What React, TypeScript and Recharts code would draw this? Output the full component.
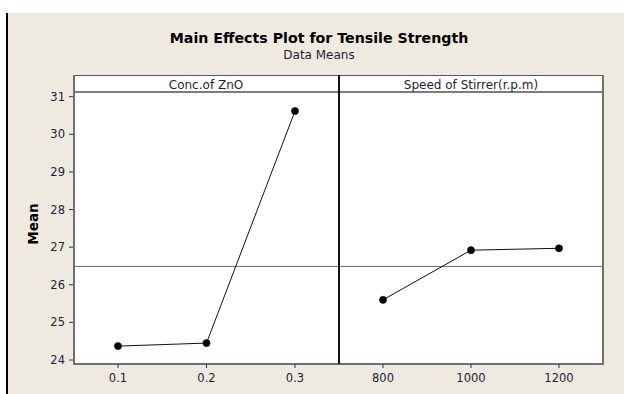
import { LineChart, Line, XAxis, YAxis, ReferenceLine } from 'recharts';

const concLevels = ['0.1', '0.2', '0.3'];
const concMeans = [24.37, 24.45, 30.62];

const speedLevels = ['800', '1000', '1200'];
const speedMeans = [25.6, 26.92, 26.97];

const meanTicks = [24, 25, 26, 27, 28, 29, 30, 31];
const meanDomain: [number, number] = [23.894, 31.125];

const concData = concLevels.map((level, i) => ({ level, mean: concMeans[i] }));
const speedData = speedLevels.map((level, i) => ({ level, mean: speedMeans[i] }));

// overall mean of all observations, drawn across both panels
const allMeans = [...concMeans, ...speedMeans];
const grandMean = allMeans.reduce((s, v) => s + v, 0) / allMeans.length;

const FONT = '"DejaVu Sans", Verdana, sans-serif';
const TEXT = '#1e1e36';
const FRAME = '#707070';
const BG = '#eeeae0';

const tickStyle = { fontFamily: FONT, fontSize: 11.5, fill: TEXT };

function Panel({ data, withAxis, width }: { data: { level: string; mean: number }[]; withAxis: boolean; width: number }) {
  return (
    <LineChart
      width={width}
      height={394}
      data={data}
      margin={{ top: 92, right: 0, bottom: 0, left: withAxis ? 14 : 0 }}
    >
      <XAxis
        dataKey="level"
        padding={{ left: 44, right: 44 }}
        height={30}
        tickSize={4}
        tickMargin={6}
        tick={tickStyle}
        tickLine={{ stroke: '#333' }}
        axisLine={{ stroke: FRAME, strokeWidth: 2 }}
      />
      <YAxis
        hide={!withAxis}
        width={60}
        domain={meanDomain}
        ticks={meanTicks}
        allowDataOverflow
        tickSize={5}
        tickMargin={4}
        tick={tickStyle}
        tickLine={{ stroke: '#333' }}
        axisLine={{ stroke: FRAME, strokeWidth: 2 }}
      />
      <ReferenceLine y={grandMean} stroke="#6a6a6a" strokeWidth={1} />
      <Line
        type="linear"
        dataKey="mean"
        stroke="#111"
        strokeWidth={1}
        dot={{ r: 3.6, fill: '#000', stroke: '#000', strokeWidth: 0.5 }}
        activeDot={false}
        isAnimationActive={false}
      />
    </LineChart>
  );
}

export default function App() {
  const abs = (s: React.CSSProperties): React.CSSProperties => ({ position: 'absolute', ...s });
  return (
    <div style={abs({ left: 0, top: 0, width: 624, height: 394, background: '#fff', overflow: 'hidden' })}>
      <div style={abs({ left: 8, top: 13, width: 616, height: 381, background: BG })} />
      <div style={abs({ left: 6, top: 13, width: 2, height: 381, background: '#000' })} />

      <div
        style={abs({
          left: 119, top: 30, width: 400, textAlign: 'center',
          fontFamily: FONT, fontWeight: 'bold', fontSize: 14.2, lineHeight: '16px', color: '#000',
        })}
      >
        Main Effects Plot for Tensile Strength
      </div>
      <div
        style={abs({
          left: 219, top: 48, width: 200, textAlign: 'center',
          fontFamily: FONT, fontSize: 12, lineHeight: '14px', color: TEXT,
        })}
      >
        Data Means
      </div>

      {/* panel background with the header strip */}
      <div style={abs({ left: 74, top: 75, width: 529, height: 289, background: '#fff' })} />

      <div style={abs({ left: 0, top: 0 })}>
        <Panel data={concData} withAxis width={339} />
      </div>
      <div style={abs({ left: 339, top: 0 })}>
        <Panel data={speedData} withAxis={false} width={264} />
      </div>

      {/* frame lines */}
      <div style={abs({ left: 73, top: 75, width: 531, height: 1, background: '#555' })} />
      <div style={abs({ left: 74, top: 91, width: 529, height: 2, background: '#7c7c7c' })} />
      <div style={abs({ left: 73, top: 75, width: 2, height: 290, background: FRAME })} />
      <div style={abs({ left: 602, top: 75, width: 2, height: 290, background: FRAME })} />
      <div style={abs({ left: 338, top: 75, width: 2, height: 289, background: '#111' })} />

      <div
        style={abs({
          left: 106, top: 78, width: 200, textAlign: 'center',
          fontFamily: FONT, fontSize: 12, lineHeight: '14px', color: TEXT,
        })}
      >
        Conc.of ZnO
      </div>
      <div
        style={abs({
          left: 371, top: 78, width: 200, textAlign: 'center',
          fontFamily: FONT, fontSize: 12, lineHeight: '14px', color: TEXT,
        })}
      >
        Speed of Stirrer(r.p.m)
      </div>

      <div
        style={abs({
          left: 33, top: 224, transform: 'translate(-50%, -50%) rotate(-90deg)',
          fontFamily: FONT, fontWeight: 'bold', fontSize: 13.5,
          lineHeight: '16px', color: '#000', whiteSpace: 'nowrap',
        })}
      >
        Mean
      </div>
    </div>
  );
}
